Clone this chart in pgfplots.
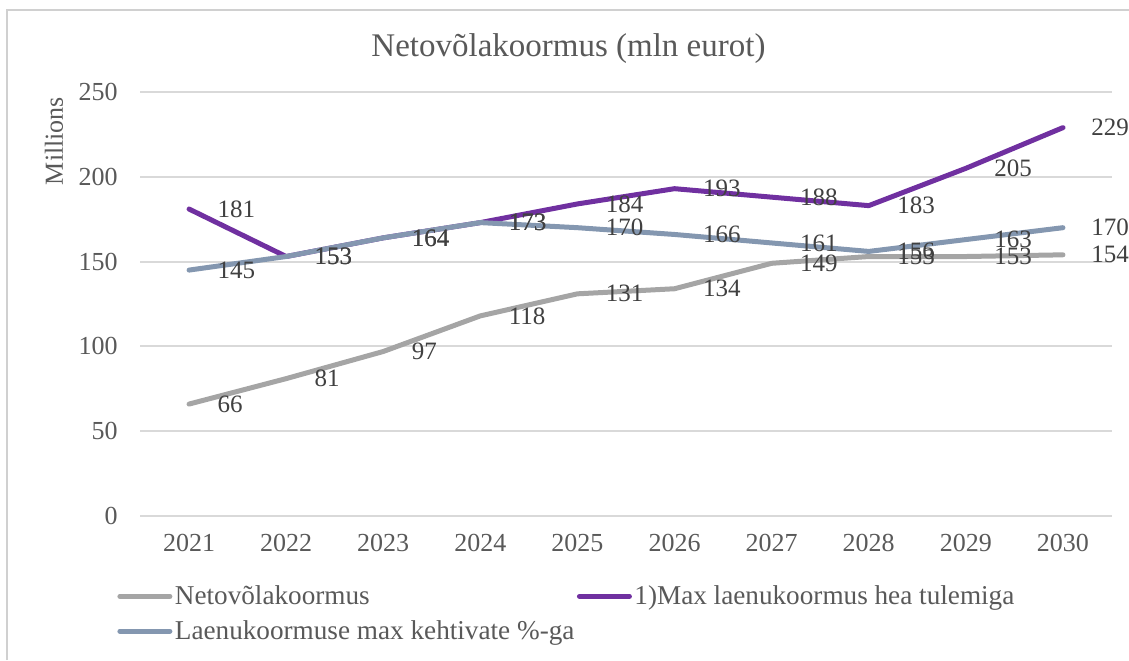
\documentclass[border=0pt]{standalone}
\usepackage{fontspec}
\setmainfont{Liberation Serif}
\usepackage{pgfplots}
\pgfplotsset{compat=1.18}

\definecolor{netogray}{HTML}{A5A5A5}
\definecolor{maxpurple}{HTML}{7030A0}
\definecolor{kehtblue}{HTML}{8497B0}
\definecolor{gridgray}{HTML}{D9D9D9}
\definecolor{framegray}{HTML}{D0D0D0}
\definecolor{txt}{HTML}{595959}
\definecolor{lbl}{HTML}{404040}

\begin{document}
\begin{tikzpicture}[font=\fontsize{13}{15.6}\selectfont]
\path[use as bounding box] (-70.25pt,-72pt) rectangle (494.25pt,258pt);
% chart frame (only top and left edges are visible)
\draw[framegray, line width=0.8pt] (-66.75pt,-72pt) -- (-66.75pt,253pt) -- (494.25pt,253pt);

\begin{axis}[
    scale only axis,
    width=485.5pt, height=212pt,
    xmin=2020.5, xmax=2030.5,
    ymin=0, ymax=250,
    xtick={2021,...,2030},
    ytick={0,50,...,250},
    /pgf/number format/assume math mode=true,
    /pgf/number format/1000 sep={},
    axis line style={draw=none},
    major tick length=0pt,
    ymajorgrids,
    grid style={gridgray, line width=1pt},
    tick label style={txt},
    xticklabel style={anchor=center, yshift=-13.5pt, inner sep=0pt},
    yticklabel style={anchor=east, xshift=-11.25pt, inner sep=0pt},
    nodes near coords,
    nodes near coords align=horizontal,
    nodes near coords style={anchor=west, xshift=13pt, inner sep=0pt, text=lbl,
        font=\fontsize{12.5}{15}\selectfont},
    legend columns=2,
    legend cell align=left,
    legend style={at={(-0.0242,-0.158)}, anchor=north west, draw=none, fill=none,
        text=txt, inner sep=0pt, row sep=4.5pt,
        font=\fontsize{13.6}{16}\selectfont,
        nodes={inner xsep=1.25pt, inner ysep=1pt},
        /tikz/every even column/.append style={column sep=0pt}},
    legend image code/.code={\draw[#1, line cap=round] (0pt,0pt) -- (25pt,0pt);},
    every axis plot/.append style={line width=2.5pt, line join=round, line cap=round},
]
\addplot[netogray] coordinates {
    (2021,66) (2022,81) (2023,97) (2024,118) (2025,131)
    (2026,134) (2027,149) (2028,153) (2029,153) (2030,154)
};
\addlegendentry{Netovõlakoormus}
\addplot[maxpurple] coordinates {
    (2021,181) (2022,153) (2023,164) (2024,173) (2025,184)
    (2026,193) (2027,188) (2028,183) (2029,205) (2030,229)
};
\addlegendentry{1)Max laenukoormus hea tulemiga}
\addplot[kehtblue] coordinates {
    (2021,145) (2022,153) (2023,164) (2024,173) (2025,170)
    (2026,166) (2027,161) (2028,156) (2029,163) (2030,170)
};
\addlegendentry{Laenukoormuse max kehtivate \%-ga}
\end{axis}

\node[txt, font=\fontsize{16.5}{19}\selectfont] at (214pt,233.5pt) {Netovõlakoormus (mln eurot)};
\node[txt, rotate=90] at (-43.25pt,187.5pt) {Millions};
\end{tikzpicture}
\end{document}
